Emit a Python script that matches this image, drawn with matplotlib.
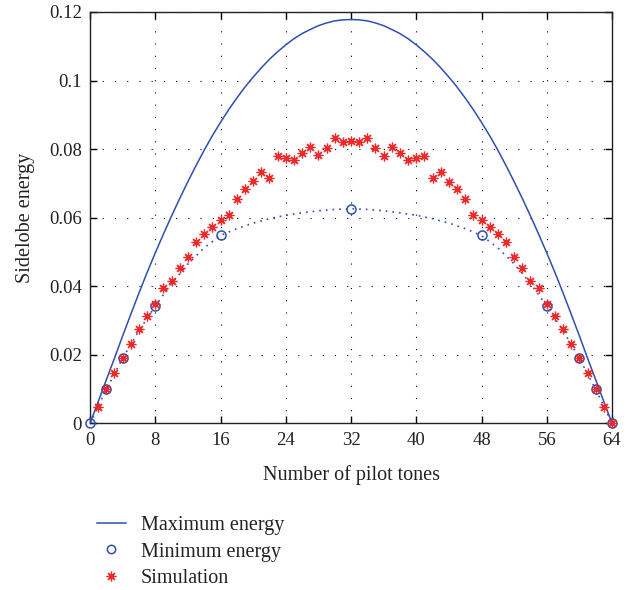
import matplotlib
matplotlib.use("Agg")
import matplotlib.pyplot as plt
from matplotlib.lines import Line2D

plt.rcParams['font.family'] = ['Liberation Serif', 'DejaVu Serif']

# Maximum energy curve (read at every tone, symmetric about 32)
max_half = [0.0, 0.0063, 0.0127, 0.019, 0.0255, 0.0318, 0.038, 0.044, 0.0497, 0.0552,
            0.0605, 0.0656, 0.0705, 0.0752, 0.0797, 0.0839, 0.0878, 0.0915, 0.0949,
            0.0981, 0.101, 0.1037, 0.1062, 0.1084, 0.1104, 0.1122, 0.1137, 0.1149,
            0.116, 0.1168, 0.1174, 0.1177, 0.1178]
max_y = max_half + max_half[-2::-1]
max_x = list(range(0, 65))

# Minimum energy markers
min_x = [0, 2, 4, 8, 16, 32, 48, 56, 60, 62, 64]
min_y = [0.0, 0.0099, 0.019, 0.0342, 0.0548, 0.0626, 0.0548, 0.0342, 0.019, 0.0099, 0.0]

# Minimum energy dotted curve (read every 2 tones)
mincurve_x = list(range(0, 65, 2))
mincurve_y = [0.0, 0.0099, 0.019, 0.027, 0.0342, 0.0408, 0.0465, 0.0512, 0.0548, 0.0568,
              0.0584, 0.0597, 0.0607, 0.0614, 0.062, 0.0624, 0.0626,
              0.0624, 0.062, 0.0614, 0.0607, 0.0597, 0.0584, 0.0568, 0.0548, 0.0512,
              0.0465, 0.0408, 0.0342, 0.027, 0.019, 0.0099, 0.0]

# Simulation points
sim_x = list(range(1, 65))
sim_y = [0.0048, 0.0099, 0.0146, 0.019, 0.0232, 0.0275, 0.0314, 0.0348, 0.0396, 0.0415,
         0.0454, 0.0486, 0.0528, 0.0553, 0.0572, 0.0592, 0.0608, 0.0653, 0.0684, 0.0706,
         0.0734, 0.0715, 0.078, 0.0773, 0.0768, 0.0789, 0.0807, 0.0782, 0.0803, 0.0831,
         0.0822, 0.0825, 0.0822, 0.0831, 0.0803, 0.0781, 0.0807, 0.0789, 0.0768, 0.0773,
         0.078, 0.0715, 0.0733, 0.0705, 0.0683, 0.0655, 0.0608, 0.0592, 0.0572, 0.0553,
         0.0528, 0.0486, 0.0454, 0.0415, 0.0396, 0.0348, 0.0314, 0.0275, 0.0232, 0.019,
         0.0146, 0.0099, 0.0048, 0.0]

x_ticks = [0, 8, 16, 24, 32, 40, 48, 56, 64]
y_ticks = [0, 0.02, 0.04, 0.06, 0.08, 0.1, 0.12]
y_labels = ['0', '0.02', '0.04', '0.06', '0.08', '0.1', '0.12']

blue = '#2f4fb0'
red = '#f02828'
txt = '#222222'

fig = plt.figure(figsize=(6.37, 5.90), dpi=100)
ax = fig.add_axes([0.1413, 0.2825, 0.8195, 0.6972])

ax.plot(max_x, max_y, color=blue, lw=1.1, zorder=3)
ax.plot(mincurve_x, mincurve_y, color=blue, lw=1.2, ls=(0, (1, 3)), zorder=3)
ax.plot(min_x, min_y, ls='none', marker='o', ms=6.5, mfc='none', mec=blue, mew=1.1,
        zorder=4, clip_on=False)
ax.plot(sim_x, sim_y, ls='none', marker=(8, 2, 0), ms=7, mec=red, mfc=red, mew=0.9,
        zorder=5, clip_on=False)

ax.set_xlim(0, 64)
ax.set_ylim(0, 0.12)
ax.set_xticks(x_ticks)
ax.set_xticklabels([str(v) for v in x_ticks])
ax.set_yticks(y_ticks)
ax.set_yticklabels(y_labels)
ax.tick_params(direction='in', top=True, right=True, length=5, width=1,
               labelsize=13.5, colors='black', labelcolor=txt, pad=6)
ax.grid(True, color='black', ls=(0, (1, 10)), lw=0.8)
for s in ax.spines.values():
    s.set_linewidth(1.0)
    s.set_color('#222222')

ax.set_xlabel('Number of pilot tones', fontsize=14.5, color=txt, labelpad=12)
ax.set_ylabel('Sidelobe energy', fontsize=14.5, color=txt, labelpad=10)

handles = [
    Line2D([], [], color=blue, lw=1.1),
    Line2D([], [], ls='none', marker='o', ms=6, mfc='none', mec=blue, mew=1.1),
    Line2D([], [], ls='none', marker=(8, 2, 0), ms=7, mec=red, mew=0.9),
]
labels = ['Maximum energy', 'Minimum energy', 'Simulation']
fig.legend(handles, labels, loc='upper left', bbox_to_anchor=(0.137, 0.142),
           frameon=False, fontsize=14.5, handlelength=1.4, handletextpad=0.75,
           labelspacing=0.35, labelcolor=txt, borderpad=0)

fig.savefig('out.png', dpi=100)
